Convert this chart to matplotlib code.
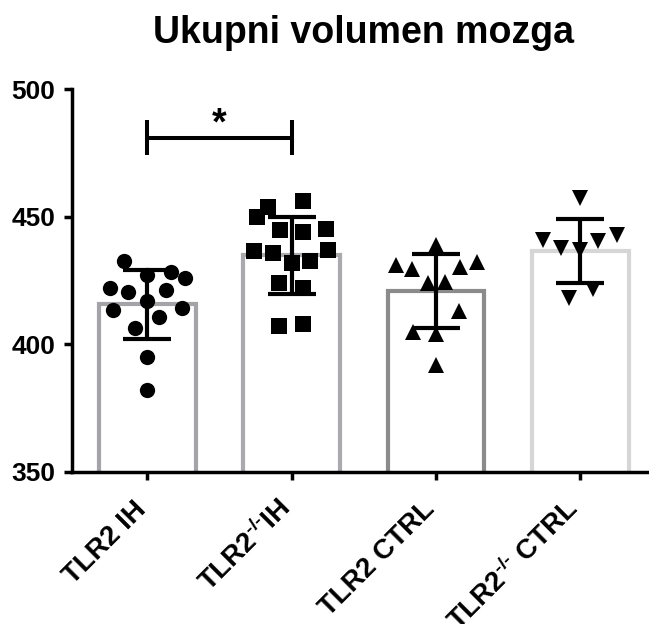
import matplotlib
matplotlib.use("Agg")
import matplotlib.pyplot as plt
import numpy as np

plt.rcParams['font.family'] = ['Liberation Sans', 'DejaVu Sans']
plt.rcParams['mathtext.fontset'] = 'custom'
plt.rcParams['mathtext.rm'] = 'Liberation Sans:bold'
plt.rcParams['mathtext.it'] = 'Liberation Sans:bold'
plt.rcParams['mathtext.bf'] = 'Liberation Sans:bold'
plt.rcParams['mathtext.sf'] = 'Liberation Sans:bold'

title = "Ukupni volumen mozga"
categories = ["TLR2 IH", "TLR2$^{\u2010/\u2010}$IH", "TLR2 CTRL", "TLR2$^{\u2010/\u2010}$ CTRL"]
means = [415.6, 434.9, 420.8, 436.5]
sds = [13.6, 15.1, 14.6, 12.5]

# individual points: (x jitter offset, value)
g1_dx = [-0.163, 0.161, 0.260, -0.260, -0.133, 0.126, 0.0, 0.0, -0.241, 0.237, 0.080, -0.087, 0.0, 0.0]
g1_val = [432.6, 428.4, 425.8, 421.9, 420.4, 421.3, 417.1, 427.1, 413.4, 414.1, 410.5, 406.2, 395.1, 382.0]

g2_dx = [0.080, -0.163, -0.243, -0.082, 0.080, 0.237, -0.262, -0.132, 0.253, 0.0, 0.126, -0.087, 0.080, -0.087, 0.080]
g2_val = [456.3, 453.9, 449.8, 444.8, 444.1, 445.1, 436.7, 435.6, 436.9, 431.7, 432.7, 423.9, 421.9, 407.1, 407.9]

g3_dx = [0.0, -0.278, -0.169, 0.166, 0.281, -0.058, 0.062, 0.161, -0.162, 0.0, 0.0]
g3_val = [438.9, 431.1, 429.4, 430.2, 432.4, 423.9, 424.5, 413.1, 404.9, 404.0, 391.8]

g4_dx = [0.0, -0.261, -0.137, 0.0, 0.124, 0.256, 0.085, -0.077]
g4_val = [457.2, 440.9, 437.6, 436.9, 440.5, 442.8, 421.5, 418.0]

yticks = [350, 400, 450, 500]
sig_pair = (0, 1)
sig_y = 481.0
sig_label = "*"

bar_colors = ['#a3a3a8', '#a9a9ae', '#8b8b8b', '#d6d6d6']
markers = ['o', 's', '^', 'v']

fig = plt.figure(figsize=(6.49, 6.24), dpi=100)
ax = fig.add_axes([0.1109, 0.2441, 0.8996, 0.6128])

x = np.arange(len(categories))
ax.bar(x, means, width=0.67, bottom=0, color='white', edgecolor=bar_colors,
       linewidth=3.0, zorder=1)

groups = [(g1_dx, g1_val), (g2_dx, g2_val), (g3_dx, g3_val), (g4_dx, g4_val)]
for i, (dx, vals) in enumerate(groups):
    ax.plot(x[i] + np.array(dx), vals, linestyle='none', marker=markers[i],
            markersize=11, color='black', markeredgewidth=0, zorder=3)

ax.errorbar(x, means, yerr=sds, fmt='none', ecolor='black', elinewidth=3,
            capsize=17, capthick=3, zorder=4)

# significance bracket
x0, x1 = sig_pair
ax.plot([x0, x1], [sig_y, sig_y], color='black', lw=2.9, solid_capstyle='butt', zorder=5)
for xe in (x0, x1):
    ax.plot([xe, xe], [sig_y - 6.8, sig_y + 6.8], color='black', lw=2.9,
            solid_capstyle='butt', zorder=5)
ax.text((x0 + x1) / 2, sig_y + 1.2, sig_label, ha='center', va='baseline',
        fontsize=27, fontweight='bold')

ax.set_xlim(-0.523, 3.523)
ax.set_ylim(350, 500)
ax.set_yticks(yticks)
ax.set_yticklabels([str(v) for v in yticks], fontsize=19, fontweight='bold')
ax.set_xticks(x)
ax.set_xticklabels(categories, fontsize=20, fontweight='bold', rotation=45,
                   ha='right', va='baseline', rotation_mode='anchor')

for s in ['top', 'right']:
    ax.spines[s].set_visible(False)
for s in ['left', 'bottom']:
    ax.spines[s].set_linewidth(2.5)
ax.tick_params(axis='both', length=6, width=2.5, color='black')
ax.tick_params(axis='y', pad=6)
ax.tick_params(axis='x', pad=22)

fig.text(363.5 / 649, 1 - 43.3 / 624, title, ha='center', va='baseline',
         fontsize=27, fontweight='bold')

fig.savefig('out.png', dpi=100)
